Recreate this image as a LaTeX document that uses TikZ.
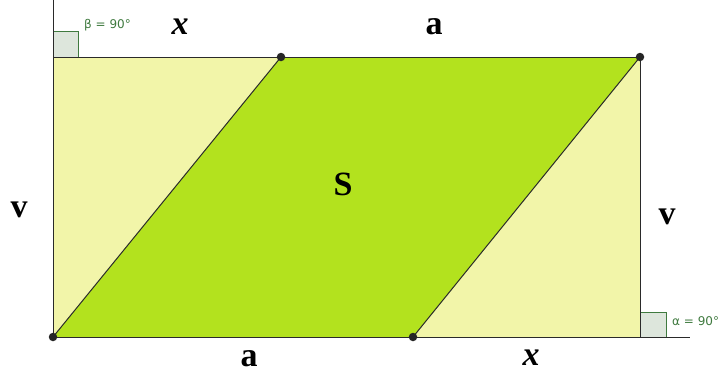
\documentclass[tikz,border=0pt]{standalone}
\usepackage{fontspec}
\setmainfont{Liberation Serif}
\newfontfamily\lblfont{DejaVu Sans}
\definecolor{paleyellow}{HTML}{F2F5A9}
\definecolor{limegreen}{HTML}{B3E21E}
\definecolor{anglefill}{HTML}{DDE6DC}
\definecolor{angleline}{HTML}{3F7A3F}
\definecolor{linegray}{HTML}{2A2A2A}
\tikzset{
  edge/.style={draw=linegray, line width=1pt},
  dotpt/.style={circle, fill=black!85, inner sep=0pt, minimum size=8.5pt},
  biglbl/.style={font=\fontsize{34}{34}\selectfont\bfseries, inner sep=0pt},
  anglelbl/.style={font=\lblfont\fontsize{12}{12}\selectfont, text=angleline, inner sep=0pt, anchor=west},
  anglebox/.style={fill=anglefill, draw=angleline, line width=0.8pt}
}
\begin{document}
\begin{tikzpicture}[x=1pt,y=-1pt]
\useasboundingbox (0,0) rectangle (718,376);
\coordinate (A) at (53,337);
\coordinate (B) at (281,57);
\coordinate (C) at (640,57);
\coordinate (D) at (413,337);
\coordinate (TL) at (53,57);
\coordinate (BR) at (640,337);
\coordinate (Ltop) at (53,0);
\coordinate (Rend) at (690,337);
% fills
\fill[paleyellow] (TL) -- (B) -- (A) -- cycle;
\fill[paleyellow] (C) -- (BR) -- (D) -- cycle;
\fill[limegreen] (A) -- (B) -- (C) -- (D) -- cycle;
% angle boxes
\draw[anglebox] (53,31) rectangle (78,57);
\draw[anglebox] (640,312) rectangle (666,337);
% lines
\draw[edge] (Ltop) -- (A);
\draw[edge] (TL) -- (C);
\draw[edge] (A) -- (Rend);
\draw[edge] (C) -- (BR);
\draw[edge] (A) -- (B);
\draw[edge] (D) -- (C);
% points
\node[dotpt] (pA) at (A) {};
\node[dotpt] (pB) at (B) {};
\node[dotpt] (pC) at (C) {};
\node[dotpt] (pD) at (D) {};
% labels
\node[anglelbl] (beta) at (84,25) {β = 90°};
\node[anglelbl] (alpha) at (672,321) {α = 90°};
\node[biglbl] (x1) at (180,27) {\itshape x};
\node[biglbl] (a1) at (434,27) {a};
\node[biglbl] (S) at (343,184) {S};
\node[biglbl] (v1) at (19,210) {v};
\node[biglbl] (v2) at (667,217) {v};
\node[biglbl] (a2) at (249,359) {a};
\node[biglbl] (x2) at (531,358) {\itshape x};
\end{tikzpicture}
\end{document}
